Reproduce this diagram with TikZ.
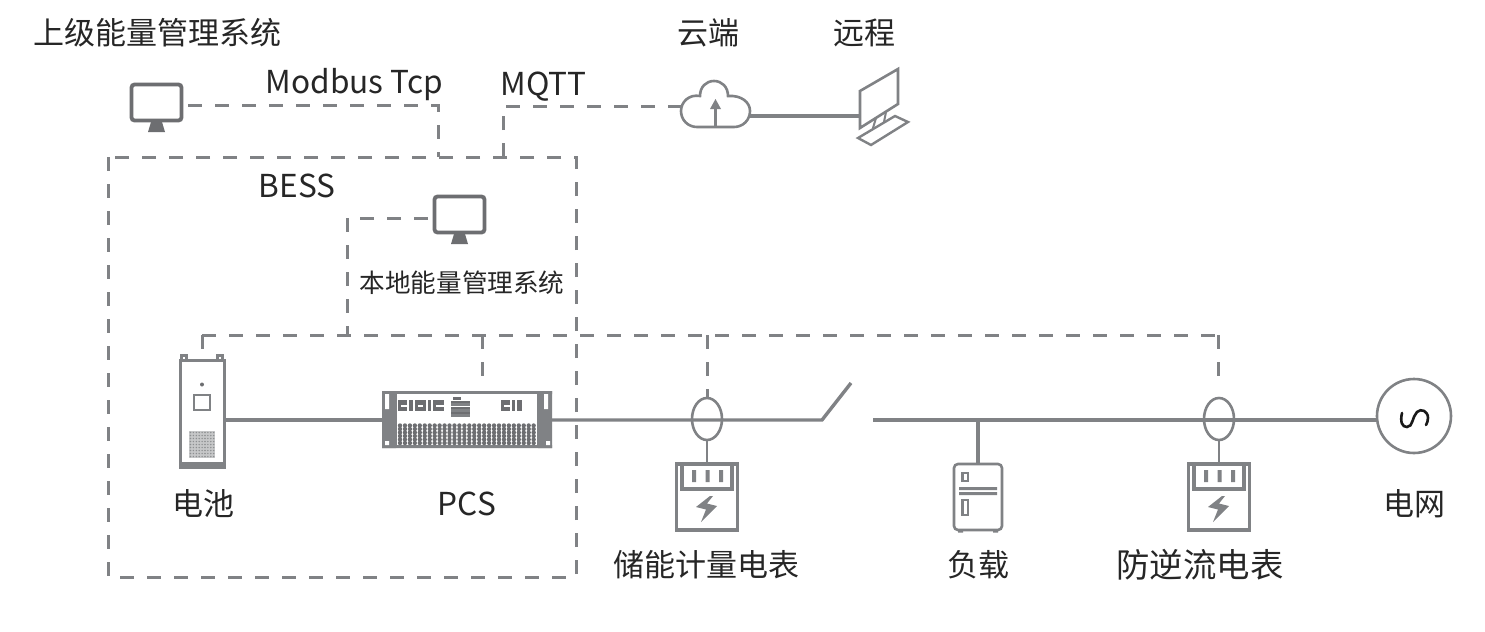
\documentclass[tikz,border=0pt]{standalone}
\usepackage{fontspec}
\setmainfont{Noto Sans CJK SC}
\definecolor{ln}{HTML}{808285}
\definecolor{dk}{HTML}{6D6E71}
\tikzset{
  x=0.5pt,y=-0.5pt,
  wire/.style={draw=ln,line width=1.7pt},
  thin wire/.style={draw=ln,line width=1.3pt},
  dash wire/.style={draw=ln,line width=1.5pt,dash pattern=on 7pt off 6.5pt},
  slot/.style 2 args={inner sep=0pt,outer sep=0pt,minimum width=0.5pt*#1,minimum height=0.5pt*#2},
  big/.style={inner sep=0pt,font=\fontsize{15.5pt}{18pt}\selectfont,text=black!85},
  latin/.style={inner sep=0pt,font=\fontsize{15.8pt}{18pt}\selectfont,text=black!85},
  wide/.style={inner sep=0pt,font=\fontsize{16.7pt}{18pt}\selectfont,text=black!85},
  small/.style={inner sep=0pt,font=\fontsize{12.8pt}{15pt}\selectfont,text=black!85},
  monitor/.pic={
    \draw[draw=dk,line width=1.9pt,rounded corners=1.5pt] (1.5,1.5) rectangle (51.5,37.5);
    \fill[dk] (21,39) -- (32,39) -- (35,49) -- (18,49) -- cycle;
  },
  meter/.pic={
    \draw[wire] (-30.5,1) rectangle (30.5,67);
    \draw[wire] (-25,1) -- (-25,26) -- (25,26) -- (25,1);
    \fill[ln] (-15,7) rectangle (-11,19) (-1.5,7) rectangle (2.5,19) (12,7) rectangle (16,19);
    \fill[ln] (3,33) -- (-11,44) -- (-1,46.5) -- (-6,59) -- (10,43) -- (0,40.5) -- (6,33) -- cycle;
  }
}
\begin{document}
\begin{tikzpicture}
\useasboundingbox (0,0) rectangle (1485,632);
\fill[white] (0,0) rectangle (1485,632);

% texts
\node[big] (ttop) at (157,33) {上级能量管理系统};
\node[big] (tcloud) at (708,33) {云端};
\node[big] (tremote) at (864,33) {远程};
\node[latin] (tmod) at (354.5,85) {Modbus Tcp};
\node[latin] (tmqtt) at (543.5,87) {MQTT};
\node[latin] (tbess) at (297,186) {BESS};
\node[small] (tlocal) at (462,283) {本地能量管理系统};
\node[big] (tbat) at (203,504) {电池};
\node[latin] (tpcs) at (467,504) {PCS};
\node[big] (tm1) at (706,565) {储能计量电表};
\node[big] (tload) at (978,565) {负载};
\node[wide] (tm2) at (1200,565) {防逆流电表};
\node[big] (tgrid) at (1414,504) {电网};

% anchor nodes of the devices
\node[slot={53}{39}] (mon1) at (156.5,102.5) {};
\node[slot={53}{39}] (mon2) at (459.5,214.5) {};
\node[slot={69}{46}] (cloud) at (715.5,104) {};
\node[slot={38}{59}] (remote) at (879,98) {};
\node[slot={46}{110}] (batt) at (202.5,414) {};
\node[slot={170}{57}] (pcs) at (467,419.5) {};
\node[slot={468}{420}] (bess) at (342,367) {};
\node[slot={30}{42}] (ct1) at (707,419) {};
\node[slot={30}{42}] (ct2) at (1219,419) {};
\node[slot={62}{68}] (m1) at (707,497) {};
\node[slot={62}{68}] (m2) at (1219,497) {};
\node[slot={50}{68}] (load) at (978,497) {};
\node[slot={74}{74}] (grid) at (1414,416) {};
\coordinate (busy) at (0,420);
\coordinate (swa) at (822,420);
\coordinate (swb) at (851,383);
\coordinate (swc) at (873,420);
\coordinate (mbus) at (438,157);
\coordinate (mqtt) at (503,157);
\coordinate (railL) at (202,335);
\coordinate (railR) at (1218,335);
\coordinate (ct2end) at (1218,386);
\coordinate (localC) at (347,335);
\coordinate (pcstap) at (482,335);
\coordinate (pcsend) at (482,378);
\coordinate (cloudR) at (750,116);
\coordinate (remoteL) at (860,116);

% dashed links
\draw[dash wire] (bess.north west) rectangle (bess.south east);
\draw[dash wire] ([xshift=2.5pt,yshift=-1.25pt]mon1.east) -| (mbus);
\draw[dash wire] (mqtt) |- ([yshift=-1pt]cloud.west);
\draw[dash wire] ([xshift=-2.5pt,yshift=-1.75pt]mon2.west) -| (localC);
\draw[dash wire] (railL) -- (railR);
\draw[dash wire] (railL) -- ([yshift=2pt]batt.north -| railL);
\draw[dash wire] (pcstap) -- (pcsend);
\draw[dash wire] (ct1.north |- railL) -- (ct1.north);
\draw[dash wire] (railR) -- (ct2end);

% power lines
\draw[wire] (batt.east |- busy) -- (pcs.west |- busy);
\draw[wire] (pcs.east |- busy) -- (swa) -- (swb);
\draw[wire] (swc) -- (grid.west |- busy);
\draw[wire] (load.north |- busy) -- (load.north);
\draw[thin wire] (ct1.south) -- (m1.north);
\draw[thin wire] (ct2.south) -- (m2.north);
\draw[wire] (cloudR) -- (remoteL);

% monitors
\path (130,83) pic {monitor};
\path (433,195) pic {monitor};

% cloud
\draw[thin wire,fill=white]
  (697,127) -- (734,127) .. controls (743,127) and (750,120) .. (750,111)
  .. controls (750,102) and (741,95) .. (728,96)
  .. controls (728,87) and (722,81) .. (714,81)
  .. controls (706,81) and (700,87) .. (700,96)
  .. controls (689,94) and (681,102) .. (681,111)
  .. controls (681,120) and (688,127) .. (697,127) -- cycle;
\draw[wire] (715.5,127) -- (715.5,106);
\fill[ln] (715.5,99) -- (721,109) -- (710,109) -- cycle;

% remote terminal
\draw[thin wire,line join=miter] (860,91) -- (898,69) -- (898,104) -- (860,128) -- cycle;
\draw[wire,line width=1pt] (876,118) -- (873,128) (886,112) -- (884,122);
\draw[wire,line width=1.2pt] (895,116) -- (908,122) -- (871,145) -- (858,138) -- cycle;

% battery
\draw[wire,line width=1.5pt] (181.5,355.5) rectangle (186.5,360) (217.5,355.5) rectangle (222.5,360);
\draw[wire,line width=1.5pt] (180.5,360.5) rectangle (224.5,466);
\fill[ln] (179,462) rectangle (226,469);
\fill[dk] (202,384.5) circle (1pt);
\draw[wire,line width=1pt] (194,395) rectangle (210,410);
\fill[ln!45] (189,431) rectangle (215,458);
\foreach \i in {0,...,8}{\foreach \j in {0,...,8}{
  \fill[ln!90] (190.5+\i*2.9,432.5+\j*3) circle (0.4pt);
}}

% PCS
\fill[white] (382,391) rectangle (552,448);
\fill[ln] (382,391) rectangle (396,448) (538,391) rectangle (552,448);
\fill[ln] (382,391) rectangle (552,394) (382,445) rectangle (552,448);
\fill[white] (385,394) rectangle (389,409) (544,394) rectangle (548,409);
\fill[white] (385,441) rectangle (389,445) (546,441) rectangle (550,445);
\fill[white] (396,394) rectangle (538,445);
\draw[wire,line width=0.8pt] (396,394) -- (396,445) (538,394) -- (538,445);
\foreach \i in {0,...,27}{\foreach \j in {0,...,5}{
  \fill[dk] (400+\i*4.95,425.5+\j*3.5) circle (1.1pt);
}}
% PCS connector glyphs
\foreach \xa/\xb in {398/407,409/413,415/426,428/431,433/444}{
  \fill[dk] (\xa,400) rectangle (\xb,411);
}
\foreach \xa/\xb in {401/407,418/423,436/444}{
  \fill[white] (\xa,404.5) rectangle (\xb,406.5);
}
\foreach \xa/\xb in {501/510,512/515,517/522}{
  \fill[dk] (\xa,400) rectangle (\xb,411);
}
\fill[white] (504,404.5) rectangle (510,406.5);
\fill[dk] (453,397) rectangle (461,400);
\foreach \y in {404,410,415}{
  \fill[ln] (451,\y-1.5) rectangle (470,\y+1.5);
}
\draw[dk,line width=0.6pt] (451,402) -- (470,402) (451,408) -- (470,408) (451,413) -- (470,413);

% current transformers
\draw[thin wire] (707,419) ellipse [x radius=15,y radius=21];
\draw[thin wire] (1219,419) ellipse [x radius=15,y radius=21];

% meters
\path (707,463) pic {meter};
\path (1219,463) pic {meter};

% load
\draw[thin wire,rounded corners=2pt] ([xshift=0.5pt,yshift=-0.5pt]load.north west) rectangle ([xshift=-0.5pt,yshift=0.5pt]load.south east);
\fill[ln] (959,487) rectangle (997,490) (959,492) rectangle (997,495);
\draw[thin wire] (962.5,473) rectangle (968,481) (962.5,500) rectangle (968,515);
\fill[ln] (958,531) rectangle (963,532.5) (993,531) rectangle (998,532.5);

% grid
\draw[thin wire] (grid) circle (18.5pt);
\draw[line width=1.3pt,black!90,line cap=round]
 (1402,413) .. controls (1400,422) and (1402,427) .. (1407,427)
 .. controls (1413,427) and (1412,417) .. (1417,412)
 .. controls (1421,408) and (1428,411) .. (1428,418)
 .. controls (1428,421) and (1427,423) .. (1426,425);
\end{tikzpicture}
\end{document}
